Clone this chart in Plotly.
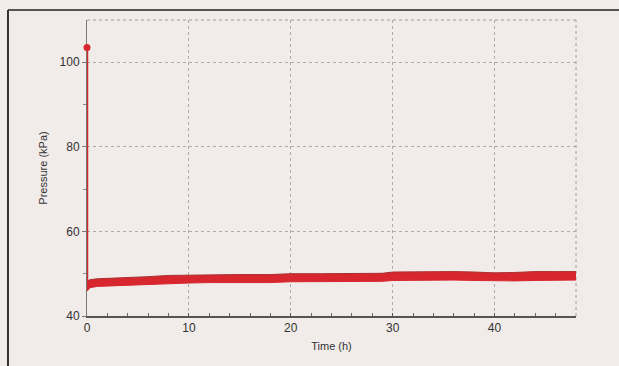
import plotly.graph_objects as go

# Data
time_h = [0, 0.3, 1, 2, 4, 6, 8, 10, 12, 15, 18, 20, 23, 26, 29, 30, 33, 36, 38, 40, 42, 44, 46, 48]
upper_kpa = [48.2, 48.6, 48.8, 48.9, 49.0, 49.3, 49.6, 49.7, 49.8, 49.8, 49.8, 50.0, 50.0, 50.0, 50.1,
             50.4, 50.5, 50.5, 50.4, 50.2, 50.3, 50.5, 50.5, 50.5]
lower_kpa = [45.9, 46.7, 47.0, 47.1, 47.2, 47.4, 47.6, 47.8, 47.9, 47.9, 47.9, 48.1, 48.1, 48.1, 48.2,
             48.4, 48.5, 48.5, 48.4, 48.3, 48.3, 48.4, 48.5, 48.5]
spike_time = [0, 0]
spike_kpa = [103.5, 46.0]

x_ticks = [0, 10, 20, 30, 40]
y_ticks = [40, 60, 80, 100]

RED = "#d8262f"
BG = "#f1ece9"
FONT = "Liberation Sans, Arial, sans-serif"

fig = go.Figure()
fig.add_trace(go.Scatter(x=time_h, y=lower_kpa, mode="lines", line=dict(color=RED, width=1),
                         showlegend=False, hoverinfo="skip", cliponaxis=False))
fig.add_trace(go.Scatter(x=time_h, y=upper_kpa, mode="lines", line=dict(color="#a8302f", width=1),
                         fill="tonexty", fillcolor=RED, showlegend=False, cliponaxis=False))
fig.add_trace(go.Scatter(x=spike_time, y=spike_kpa, mode="lines", line=dict(color=RED, width=2.5),
                         showlegend=False, cliponaxis=False))
fig.add_trace(go.Scatter(x=spike_time[:1], y=spike_kpa[:1], mode="markers",
                         marker=dict(color=RED, size=7), showlegend=False, cliponaxis=False))

fig.update_layout(
    width=619, height=366,
    margin=dict(l=87, r=43, t=20, b=50),
    paper_bgcolor=BG, plot_bgcolor=BG,
    font=dict(family=FONT, size=12, color="#333"),
    xaxis=dict(range=[0, 48], tickvals=x_ticks, showgrid=True, gridcolor="#b0aaa8",
               griddash="dot", gridwidth=1, zeroline=False,
               showline=True, linecolor="#555", linewidth=1.5,
               ticks="inside", ticklen=3, tickcolor="#555",
               minor=dict(dtick=2, ticks="inside", ticklen=3, tickcolor="#666", showgrid=False),
               title=dict(text="Time (h)", font=dict(size=11, color="#333"), standoff=8),
               tickfont=dict(size=12), layer="below traces"),
    yaxis=dict(range=[40, 110], tickvals=y_ticks, showgrid=True, gridcolor="#b0aaa8",
               griddash="dot", gridwidth=1, zeroline=False,
               showline=True, linecolor="#777", linewidth=1,
               ticks="outside", ticklen=4, tickcolor="#777",
               minor=dict(tickvals=[50, 70, 90], ticks="outside", ticklen=3, tickcolor="#888", showgrid=False),
               title=dict(text="Pressure (kPa)", font=dict(size=11, color="#333"), standoff=9),
               tickfont=dict(size=12), layer="below traces"),
    shapes=[
        dict(type="line", xref="x domain", yref="y domain", x0=0, x1=1, y0=1, y1=1,
             line=dict(color="#a09a98", width=1, dash="dot"), layer="below"),
        dict(type="line", xref="x domain", yref="y domain", x0=1, x1=1, y0=0, y1=1,
             line=dict(color="#a09a98", width=1, dash="dot"), layer="below"),
        dict(type="line", xref="paper", yref="paper", x0=-0.1616, x1=1.1, y0=1.0338, y1=1.0338,
             line=dict(color="#555", width=2)),
        dict(type="line", xref="paper", yref="paper", x0=-0.1616, x1=-0.1616, y0=-0.2, y1=1.0338,
             line=dict(color="#333", width=2)),
    ],
)

fig.write_html("out.html")
